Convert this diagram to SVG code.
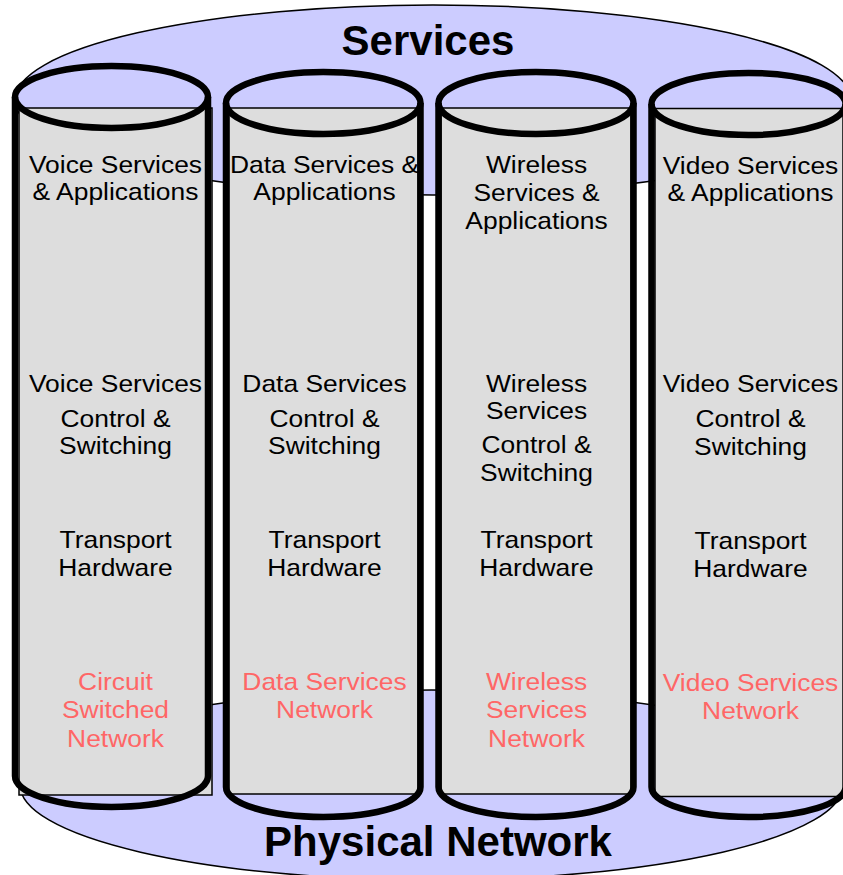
<svg xmlns="http://www.w3.org/2000/svg" width="843" height="875" viewBox="0 0 843 875">
  <style>
    .plate { fill: #CCCCFF; stroke: #000; stroke-width: 1.5; }
    .body { fill: #DDDDDD; stroke: #000; stroke-width: 1.5; }
    .cap { fill: #CCCCFF; }
    .rim { fill: none; stroke: #000; stroke-width: 6.5; stroke-linejoin: round; }
    .lbl { font-family: "Liberation Sans", Arial, sans-serif; font-size: 24px; text-anchor: middle; fill: #000; }
    .net { fill: #FF6666; }
    .head { font-family: "Liberation Sans", Arial, sans-serif; font-size: 42px; font-weight: bold; text-anchor: middle; fill: #000; }
  </style>

  <!-- shared service layer (top) and physical layer (bottom) -->
  <g id="services-layer">
    <ellipse class="plate" cx="433" cy="100" rx="418" ry="95"/>
    <text class="head" x="428" y="55">Services</text>
  </g>
  <g id="physical-layer">
    <ellipse class="plate" cx="431.5" cy="785" rx="411.5" ry="95"/>
  </g>

  <!-- Voice column -->
  <g id="voice">
    <ellipse class="cap" cx="111.5" cy="97" rx="96.5" ry="31"/>
    <rect class="body" x="19" y="108" width="193" height="687"/>
    <path class="rim" d="M15,97 L15,776 A96.5,31 0 0 0 208,776 L208,97"/>
    <ellipse class="rim" cx="111.5" cy="97" rx="96.5" ry="31"/>
    <g transform="translate(115.5 0) scale(1.1 1)">
      <text class="lbl" x="0" y="173">Voice Services</text>
      <text class="lbl" x="0" y="200">&amp; Applications</text>
      <text class="lbl" x="0" y="392">Voice Services</text>
      <text class="lbl" x="0" y="427">Control &amp;</text>
      <text class="lbl" x="0" y="454">Switching</text>
      <text class="lbl" x="0" y="548">Transport</text>
      <text class="lbl" x="0" y="576">Hardware</text>
      <text class="lbl net" x="0" y="690">Circuit</text>
      <text class="lbl net" x="0" y="718">Switched</text>
      <text class="lbl net" x="0" y="747">Network</text>
    </g>
  </g>

  <!-- Data column -->
  <g id="data">
    <ellipse class="cap" cx="323.25" cy="103" rx="97.25" ry="31"/>
    <rect class="body" x="229" y="108" width="189" height="686"/>
    <path class="rim" d="M226,103 L226,787 A97.25,30 0 0 0 420.5,787 L420.5,103"/>
    <ellipse class="rim" cx="323.25" cy="103" rx="97.25" ry="31"/>
    <g transform="translate(324.5 0) scale(1.1 1)">
      <text class="lbl" x="0" y="173">Data Services &amp;</text>
      <text class="lbl" x="0" y="200">Applications</text>
      <text class="lbl" x="0" y="392">Data Services</text>
      <text class="lbl" x="0" y="427">Control &amp;</text>
      <text class="lbl" x="0" y="454">Switching</text>
      <text class="lbl" x="0" y="548">Transport</text>
      <text class="lbl" x="0" y="576">Hardware</text>
      <text class="lbl net" x="0" y="690">Data Services</text>
      <text class="lbl net" x="0" y="718">Network</text>
    </g>
  </g>

  <!-- Wireless column -->
  <g id="wireless">
    <ellipse class="cap" cx="536" cy="103" rx="97.5" ry="31"/>
    <rect class="body" x="441" y="108" width="190" height="686"/>
    <path class="rim" d="M438.5,103 L438.5,787 A97.5,30 0 0 0 633.5,787 L633.5,103"/>
    <ellipse class="rim" cx="536" cy="103" rx="97.5" ry="31"/>
    <g transform="translate(536.5 0) scale(1.1 1)">
      <text class="lbl" x="0" y="173">Wireless</text>
      <text class="lbl" x="0" y="201">Services &amp;</text>
      <text class="lbl" x="0" y="229">Applications</text>
      <text class="lbl" x="0" y="392">Wireless</text>
      <text class="lbl" x="0" y="419">Services</text>
      <text class="lbl" x="0" y="453">Control &amp;</text>
      <text class="lbl" x="0" y="481">Switching</text>
      <text class="lbl" x="0" y="548">Transport</text>
      <text class="lbl" x="0" y="576">Hardware</text>
      <text class="lbl net" x="0" y="690">Wireless</text>
      <text class="lbl net" x="0" y="718">Services</text>
      <text class="lbl net" x="0" y="747">Network</text>
    </g>
  </g>

  <!-- Video column -->
  <g id="video">
    <ellipse class="cap" cx="748.5" cy="104" rx="97" ry="31"/>
    <rect class="body" x="655" y="108.5" width="200" height="688"/>
    <path class="rim" d="M651.5,104 L651.5,787 A97,30 0 0 0 845.5,787 L845.5,104"/>
    <ellipse class="rim" cx="748.5" cy="104" rx="97" ry="31"/>
    <g transform="translate(750.5 0) scale(1.1 1)">
      <text class="lbl" x="0" y="174">Video Services</text>
      <text class="lbl" x="0" y="201">&amp; Applications</text>
      <text class="lbl" x="0" y="392">Video Services</text>
      <text class="lbl" x="0" y="427">Control &amp;</text>
      <text class="lbl" x="0" y="455">Switching</text>
      <text class="lbl" x="0" y="549">Transport</text>
      <text class="lbl" x="0" y="577">Hardware</text>
      <text class="lbl net" x="0" y="691">Video Services</text>
      <text class="lbl net" x="0" y="719">Network</text>
    </g>
  </g>

  <text class="head" x="438" y="856">Physical Network</text>

  <!-- no connectors in this drawing -->
  <g id="connectors"/>
</svg>
